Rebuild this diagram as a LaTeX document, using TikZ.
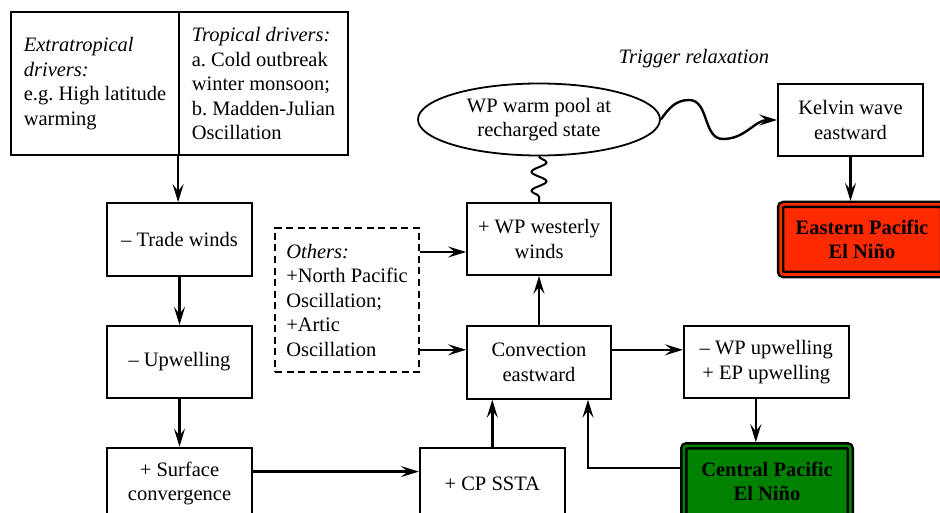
\documentclass[tikz,border=0pt]{standalone}
\usepackage{fontspec}
\setmainfont{Liberation Serif}
\usetikzlibrary{positioning, arrows.meta, shapes.geometric, decorations.pathmorphing}
\definecolor{epred}{HTML}{FF2A00}
\definecolor{cpgreen}{HTML}{008200}

\begin{document}
\begin{tikzpicture}[x=1pt, y=1pt, node distance=48pt,
      every node/.style={font=\fontsize{20.5}{24.5}\selectfont, align=center},
      box/.style={draw, line width=1.8pt, minimum width=145pt, minimum height=72pt, inner sep=3pt},
      drivers/.style={box, align=left, minimum height=143pt},
      nino/.style={draw, line width=2.5pt, double distance=2.5pt, rounded corners=3pt, outer sep=3.5pt,
        minimum width=166.5pt, minimum height=71.5pt, font=\fontsize{20.5}{24.5}\selectfont\bfseries},
      arrow/.style={line width=2.4pt, -{Stealth[length=18pt, width=11pt, inset=7pt]}},
      wiggle/.style={line width=2pt, decorate, decoration={snake, amplitude=7.5pt, segment length=19pt}}]
    \useasboundingbox (0,0) rectangle (940,-513);
    % drivers
    \node[drivers, minimum width=168pt] (extra) at (95,-83.7) {\textit{Extratropical}\\\textit{drivers:}\\e.g.\ High latitude\\warming};
    \node[drivers, minimum width=169pt] (tropic) at (263.5,-83.7) {\textit{Tropical drivers:}\\a.\ Cold outbreak\\winter monsoon;\\b.\ Madden-Julian\\Oscillation};
    % left chain
    \node[box, minimum height=73pt] (trade) at (179.5,-239.5) {– Trade winds};
    \node[box, below=of trade] (upwell) {– Upwelling};
    \node[box, below=of upwell] (surface) {+ Surface\\convergence};
    \node[box, right=166pt of surface] (ssta) {+ CP SSTA};
    % middle
    \node[box, minimum width=144pt, dash pattern=on 7pt off 4.5pt, align=left, minimum height=144pt] (others) at (347,-300) {\textit{Others:}\\+North Pacific\\Oscillation;\\+Artic\\Oscillation};
    \node[box, minimum width=144pt] (westerly) at (539,-239) {+ WP westerly\\winds};
    \node[box, minimum width=144pt, minimum height=73pt, below=49pt of westerly] (convect) {Convection\\eastward};
    \node[ellipse, draw, line width=1.8pt, minimum width=242pt, minimum height=72pt, inner sep=0pt] (pool) at (539,-119.5) {WP warm pool at\\recharged state};
    \node[font=\fontsize{20.5}{24.5}\selectfont\itshape] (trigger) at (694,-59) {Trigger relaxation};
    % right
    \node[box] (kelvin) at (850.5,-120) {Kelvin wave\\eastward};
    \node[nino, fill=epred, double=epred, minimum width=163pt, minimum height=70pt] (eastern) at (862,-239.5) {Eastern Pacific\\El Niño};
    \node[box, minimum width=165pt, right=71pt of convect] (wpupw) {– WP upwelling\\+ EP upwelling};
    \node[nino, fill=cpgreen, double=cpgreen] (central) at (767,-481.5) {Central Pacific\\El Niño};
    \coordinate (crest) at (689,-100);
    \coordinate (trough) at (723,-139);

    \draw[arrow] (tropic.south west) -- (tropic.south west |- trade.north);
    \draw[arrow] (trade) -- (upwell);
    \draw[arrow] (upwell) -- (surface);
    \draw[arrow] ([yshift=12pt]surface.east) -- ([yshift=12pt]surface.east -| ssta.west);
    \draw[arrow] (ssta.north) -- (ssta.north |- convect.south);
    \draw[arrow] (convect) -- (westerly);
    \draw[arrow] ([yshift=-13pt]westerly.west -| others.east) -- ([yshift=-13pt]westerly.west);
    \draw[arrow] ([yshift=12.5pt]convect.west -| others.east) -- ([yshift=12.5pt]convect.west);
    \draw[arrow] ([yshift=12.5pt]convect.east) -- ([yshift=12.5pt]convect.east -| wpupw.west);
    \draw[arrow] ([xshift=-10.5pt]wpupw.south) -- ([xshift=-10.5pt]wpupw.south |- central.north);
    \draw[arrow] ([yshift=13.5pt]central.west) -| ([xshift=49pt]convect.south);
    \draw[arrow] (kelvin) -- (kelvin.south |- eastern.north);
    \draw[wiggle] (pool.south) -- (westerly.north);
    \draw[arrow] (pool.east) to[out=55, in=180] (crest)
      to[out=0, in=180] (trough) to[out=0, in=180] (kelvin.west);
  \end{tikzpicture}
\end{document}
